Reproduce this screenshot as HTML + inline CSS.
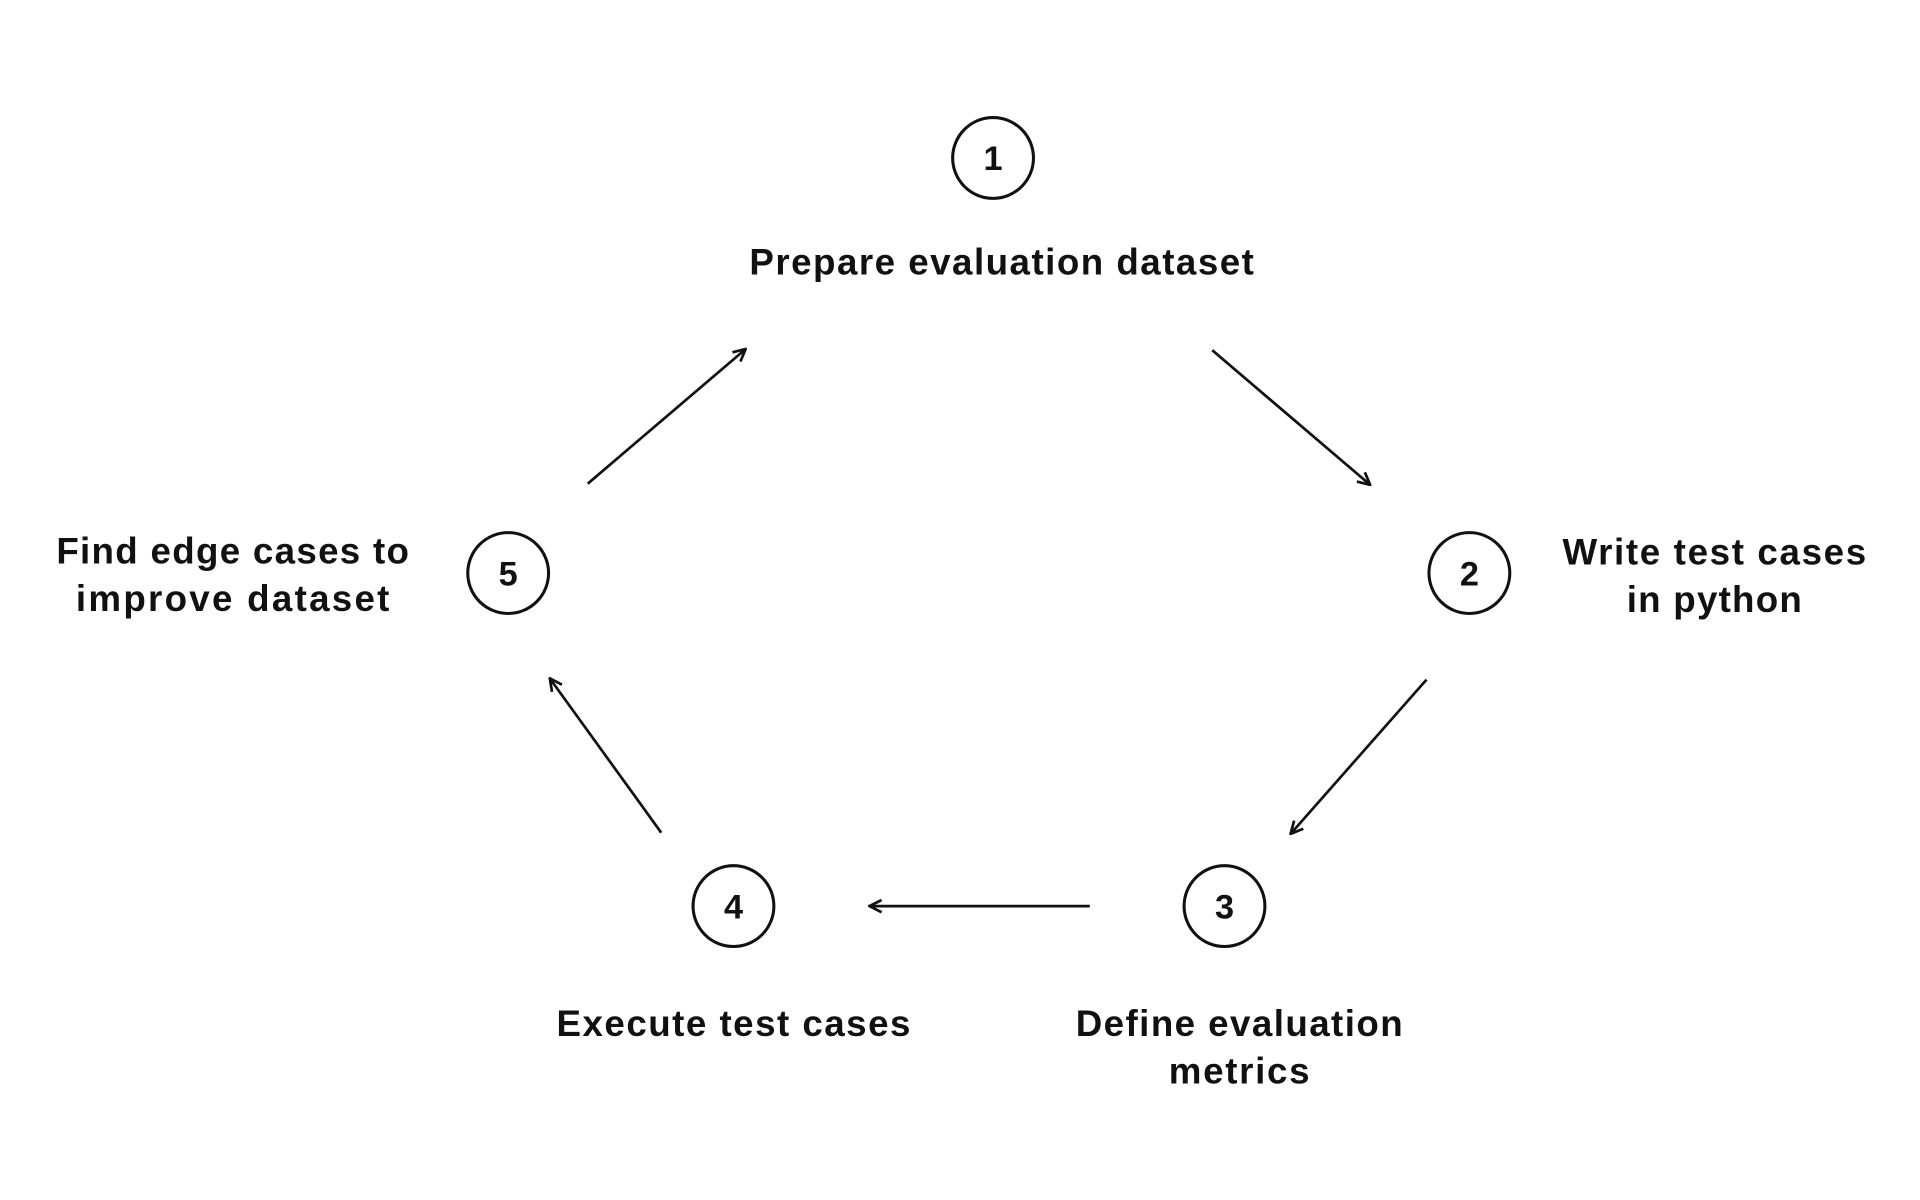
<!DOCTYPE html>
<html><head><meta charset="utf-8"><style>html,body{margin:0;padding:0;background:#fff;width:1920px;height:1200px;overflow:hidden}svg{display:block}</style></head>
<body>
<svg width="1920" height="1200" viewBox="0 0 1568 980" xmlns="http://www.w3.org/2000/svg">
<defs><marker id="a" viewBox="0 0 12 12" refX="11" refY="6" markerWidth="12" markerHeight="12" markerUnits="userSpaceOnUse" orient="auto"><path d="M1 1 L11 6 L1 11" fill="none" stroke="#111" stroke-width="2.2"/></marker></defs>
<g fill="none" stroke="#111" stroke-width="2.5">
<circle cx="811" cy="129" r="33"/><circle cx="1200" cy="468" r="33"/><circle cx="1000" cy="740" r="33"/><circle cx="599" cy="740" r="33"/><circle cx="415" cy="468" r="33"/>
</g>
<g stroke="#111" stroke-width="2.2" marker-end="url(#a)">
<line x1="480" y1="395" x2="609" y2="285"/><line x1="990" y1="286" x2="1119" y2="396"/><line x1="1165" y1="555" x2="1054" y2="681"/><line x1="890" y1="740" x2="710" y2="740"/><line x1="540" y1="680" x2="449" y2="554"/>
</g>
<g font-family="Liberation Sans, Arial, sans-serif" font-weight="bold" fill="#111" text-anchor="middle">
<g font-size="28"><text x="811" y="139">1</text><text x="1200" y="478">2</text><text x="1000" y="750">3</text><text x="599" y="750">4</text><text x="415" y="478">5</text></g>
<g font-size="30">
<text x="818" y="224" textLength="412">Prepare evaluation dataset</text>
<text x="1400" y="461" textLength="248">Write test cases</text>
<text x="1400" y="500" textLength="143">in python</text>
<text x="1012" y="846" textLength="267">Define evaluation</text>
<text x="1012" y="885" textLength="115">metrics</text>
<text x="599" y="846" textLength="289">Execute test cases</text>
<text x="190" y="460" textLength="288">Find edge cases to</text>
<text x="190" y="499" textLength="256">improve  dataset</text>
</g></g>
</svg>
</body></html>
